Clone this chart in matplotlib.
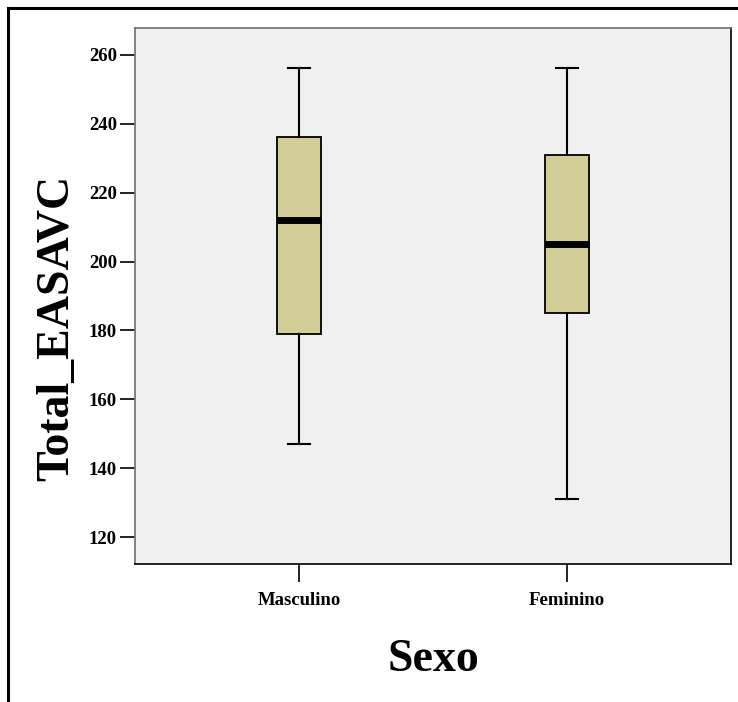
import matplotlib
matplotlib.use("Agg")
import matplotlib.pyplot as plt
from matplotlib.lines import Line2D

plt.rcParams["font.family"] = ["Liberation Serif", "DejaVu Serif"]
plt.rcParams["font.weight"] = "bold"

# ====================== data ======================
categorias = ["Masculino", "Feminino"]
bigote_inf = [147, 131]
q1 = [179, 185]
mediana = [212, 205]
q3 = [236, 231]
bigote_sup = [256, 256]
y_ticks = [120, 140, 160, 180, 200, 220, 240, 260]

fig = plt.figure(figsize=(7.38, 7.02), dpi=100)
ax = fig.add_axes([0.1829, 0.1966, 0.8076, 0.7635])
ax.set_facecolor("#f0f0f0")

stats = []
for i, nombre in enumerate(categorias):
    stats.append(dict(label=nombre, whislo=bigote_inf[i], q1=q1[i], med=mediana[i],
                      q3=q3[i], whishi=bigote_sup[i], fliers=[]))

ax.bxp(stats, positions=[1, 2], widths=0.167, patch_artist=True, showfliers=False,
       boxprops=dict(facecolor="#d3ce97", edgecolor="black", linewidth=1.3),
       medianprops=dict(color="black", linewidth=5, solid_capstyle="butt"),
       whiskerprops=dict(color="black", linewidth=1.5),
       capprops=dict(color="black", linewidth=1.5),
       capwidths=0.084)

ax.set_xlim(0.388, 2.612)
ax.set_ylim(112.3, 267.7)
ax.set_yticks(y_ticks)
ax.tick_params(axis="y", length=11, width=1.2, pad=2, labelsize=13.5)
ax.tick_params(axis="x", length=13, width=1.2, pad=7, labelsize=13.5)
for lbl in ax.get_xticklabels() + ax.get_yticklabels():
    lbl.set_fontweight("bold")

for lado in ["top", "left"]:
    ax.spines[lado].set_color("#6e6e6e")
for lado in ["bottom", "right"]:
    ax.spines[lado].set_color("black")
for s in ax.spines.values():
    s.set_linewidth(1.2)

# titulos de ejes
fig.text(0.0921, 0.533, "Total_EASAVC", rotation=90, rotation_mode="anchor",
         ha="center", va="baseline", fontsize=33, fontweight="bold")
fig.text(0.587, 0.0442, "Sexo", ha="center", va="baseline", fontsize=33,
         fontweight="bold")

# marco exterior
fig.add_artist(Line2D([8 / 738, 1.0], [1 - 8 / 702, 1 - 8 / 702],
                      transform=fig.transFigure, color="black", linewidth=2.2))
fig.add_artist(Line2D([8 / 738, 8 / 738], [0.0, 1 - 8 / 702],
                      transform=fig.transFigure, color="black", linewidth=2.2))

fig.savefig("out.png", dpi=100, facecolor="white")
